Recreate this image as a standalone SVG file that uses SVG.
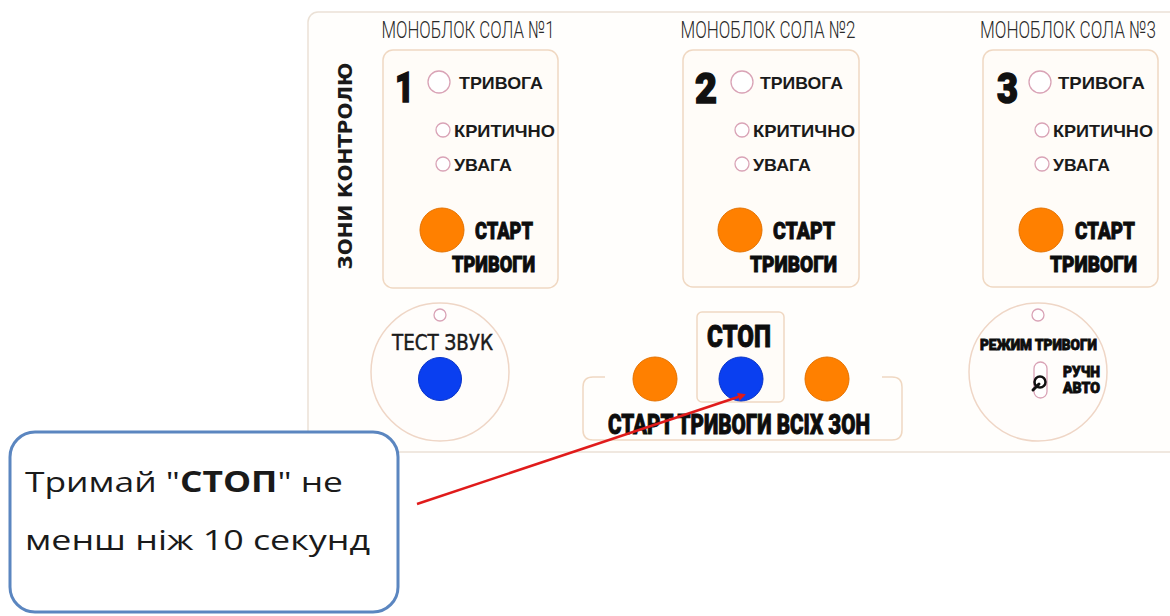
<svg xmlns="http://www.w3.org/2000/svg" width="1170" height="616" viewBox="0 0 1170 616">
<defs>
<style>
.panel{fill:#fffefc;stroke:#ebe1d6;stroke-width:1.5}
.zone{fill:#fffcf8;stroke:#f0d8c2;stroke-width:1.5}
.ring{fill:#fffdfb;stroke:#efd6c6;stroke-width:1.5}
.led{fill:#fff;stroke:#d9a3b6;stroke-width:1.3}
.org{fill:#ff8000;stroke:#e57200;stroke-width:1}
.blu{fill:#0a3ff0;stroke:#0833c8;stroke-width:1}
.title{font-family:Roboto,"DejaVu Sans",sans-serif;font-weight:300;font-size:24px;fill:#2a2a2a}
.num{font-family:Roboto,"Liberation Sans",sans-serif;font-weight:900;font-size:42px;fill:#111;stroke:#111;stroke-width:1.5}
.lbl{font-family:"Liberation Sans",Arial,sans-serif;font-weight:bold;font-size:17px;fill:#1a1a1a}
.heavy{font-family:Roboto,"Liberation Sans",sans-serif;font-weight:900;fill:#0d0d0d;stroke:#0d0d0d;stroke-width:0.9}
.mid{font-family:"DejaVu Sans",sans-serif;fill:#1a1a1a}
.note{font-family:"Open Sans","Noto Sans",sans-serif;font-size:28px;fill:#1a1a1a}
</style>
<marker id="ah" markerWidth="8" markerHeight="8" refX="6" refY="4" orient="auto" markerUnits="userSpaceOnUse">
<path d="M0,0 L8,4 L0,8 z" fill="#e01b1b"/>
</marker>
</defs>

<g id="panel">
<rect class="panel" x="308" y="12" width="880" height="440" rx="10"/>
<text class="mid" x="352" y="166" font-size="20" font-weight="bold" text-anchor="middle" textLength="207" lengthAdjust="spacing" transform="rotate(-90 352 166)">ЗОНИ КОНТРОЛЮ</text>
</g>

<g id="zone1">
<text class="title" x="468" y="38" text-anchor="middle" textLength="173" lengthAdjust="spacingAndGlyphs">МОНОБЛОК СОЛА №1</text>
<rect class="zone" x="383" y="50" width="175" height="238" rx="10"/>
<text class="num" x="395" y="102" textLength="19" lengthAdjust="spacingAndGlyphs">1</text>
<circle class="led" cx="439" cy="82" r="11"/>
<text class="lbl" x="459" y="89" textLength="84" lengthAdjust="spacingAndGlyphs">ТРИВОГА</text>
<circle class="led" cx="443" cy="130" r="7"/>
<text class="lbl" x="454" y="137" textLength="101" lengthAdjust="spacingAndGlyphs">КРИТИЧНО</text>
<circle class="led" cx="443" cy="164" r="7"/>
<text class="lbl" x="454" y="171" textLength="58" lengthAdjust="spacingAndGlyphs">УВАГА</text>
<circle class="org" cx="442" cy="230" r="22"/>
<text class="heavy" x="475" y="239" font-size="24" textLength="58" lengthAdjust="spacingAndGlyphs">СТАРТ</text>
<text class="heavy" x="452" y="272" font-size="22" textLength="83" lengthAdjust="spacingAndGlyphs">ТРИВОГИ</text>
</g>

<g id="zone2">
<text class="title" x="768" y="38" text-anchor="middle" textLength="175" lengthAdjust="spacingAndGlyphs">МОНОБЛОК СОЛА №2</text>
<rect class="zone" x="683" y="50" width="176" height="237" rx="10"/>
<text class="num" x="695" y="103" textLength="22" lengthAdjust="spacingAndGlyphs">2</text>
<circle class="led" cx="742" cy="82" r="11"/>
<text class="lbl" x="760" y="89" textLength="83" lengthAdjust="spacingAndGlyphs">ТРИВОГА</text>
<circle class="led" cx="742" cy="130" r="7"/>
<text class="lbl" x="753" y="137" textLength="102" lengthAdjust="spacingAndGlyphs">КРИТИЧНО</text>
<circle class="led" cx="742" cy="164" r="7"/>
<text class="lbl" x="753" y="171" textLength="58" lengthAdjust="spacingAndGlyphs">УВАГА</text>
<circle class="org" cx="740" cy="230" r="22"/>
<text class="heavy" x="773" y="239" font-size="24" textLength="62" lengthAdjust="spacingAndGlyphs">СТАРТ</text>
<text class="heavy" x="750" y="272" font-size="22" textLength="87" lengthAdjust="spacingAndGlyphs">ТРИВОГИ</text>
</g>

<g id="zone3">
<text class="title" x="1156" y="38" text-anchor="end" textLength="176" lengthAdjust="spacingAndGlyphs">МОНОБЛОК СОЛА №3</text>
<rect class="zone" x="983" y="50" width="175" height="237" rx="10"/>
<text class="num" x="997" y="103" textLength="21" lengthAdjust="spacingAndGlyphs">3</text>
<circle class="led" cx="1040" cy="82" r="11"/>
<text class="lbl" x="1058" y="89" textLength="87" lengthAdjust="spacingAndGlyphs">ТРИВОГА</text>
<circle class="led" cx="1042" cy="130" r="7"/>
<text class="lbl" x="1053" y="137" textLength="100" lengthAdjust="spacingAndGlyphs">КРИТИЧНО</text>
<circle class="led" cx="1042" cy="164" r="7"/>
<text class="lbl" x="1053" y="171" textLength="57" lengthAdjust="spacingAndGlyphs">УВАГА</text>
<circle class="org" cx="1041" cy="230" r="22"/>
<text class="heavy" x="1075" y="239" font-size="24" textLength="60" lengthAdjust="spacingAndGlyphs">СТАРТ</text>
<text class="heavy" x="1050" y="272" font-size="22" textLength="87" lengthAdjust="spacingAndGlyphs">ТРИВОГИ</text>
</g>

<g id="test-sound">
<circle class="ring" cx="440" cy="372" r="69"/>
<circle class="led" cx="440" cy="315" r="6"/>
<text class="mid" x="392" y="350" font-size="22" stroke="#1a1a1a" stroke-width="0.5" textLength="101" lengthAdjust="spacingAndGlyphs">ТЕСТ ЗВУК</text>
<circle class="blu" cx="440" cy="379" r="21.5"/>
</g>

<g id="start-all">
<path d="M605 377 H593 Q583 377 583 387 V430 Q583 440 593 440 H892 Q902 440 902 430 V387 Q902 377 892 377 H882" fill="none" stroke="#f0d8c2" stroke-width="1.5"/>
<circle class="org" cx="655" cy="379" r="22"/>
<circle class="org" cx="827" cy="379" r="22"/>
<text class="heavy" x="608" y="434" font-size="27" textLength="262" lengthAdjust="spacingAndGlyphs">СТАРТ ТРИВОГИ ВСІХ ЗОН</text>
</g>

<g id="stop">
<rect x="697" y="312" width="87" height="90" rx="5" fill="#fffcf8" stroke="#f0d8c2" stroke-width="1.5"/>
<text class="heavy" x="707" y="347" font-size="31" textLength="64" lengthAdjust="spacingAndGlyphs">СТОП</text>
<circle class="blu" cx="741" cy="379" r="22"/>
</g>

<g id="alarm-mode">
<circle class="ring" cx="1038" cy="372" r="69"/>
<circle class="led" cx="1038" cy="315" r="6"/>
<text class="heavy" x="980" y="350" font-size="15" stroke-width="0.4" textLength="117" lengthAdjust="spacingAndGlyphs">РЕЖИМ ТРИВОГИ</text>
<rect x="1034" y="362" width="13" height="36" rx="6.5" fill="#fff" stroke="#d9a3b6" stroke-width="1.3"/>
<circle cx="1040" cy="382" r="5.5" fill="#fff" stroke="#111" stroke-width="2.5"/>
<line x1="1039" y1="384" x2="1033" y2="390" stroke="#111" stroke-width="3" stroke-linecap="round"/>
<text class="heavy" x="1063" y="377" font-size="15" stroke-width="0.4" textLength="37" lengthAdjust="spacingAndGlyphs">РУЧН</text>
<text class="heavy" x="1063" y="393" font-size="15" stroke-width="0.4" textLength="37" lengthAdjust="spacingAndGlyphs">АВТО</text>
</g>

<g id="callout">
<rect x="10" y="432" width="388" height="180" rx="25" fill="#fff" stroke="#5b86c0" stroke-width="3"/>
<text class="note" x="25" y="492" textLength="318" lengthAdjust="spacingAndGlyphs">Тримай "<tspan font-weight="bold">СТОП</tspan>" не</text>
<text class="note" x="25" y="550" textLength="345" lengthAdjust="spacingAndGlyphs">менш ніж 10 секунд</text>
</g>

<g id="connectors">
<line x1="417" y1="504" x2="744" y2="395" stroke="#e01b1b" stroke-width="2.5" marker-end="url(#ah)"/>
</g>
</svg>
